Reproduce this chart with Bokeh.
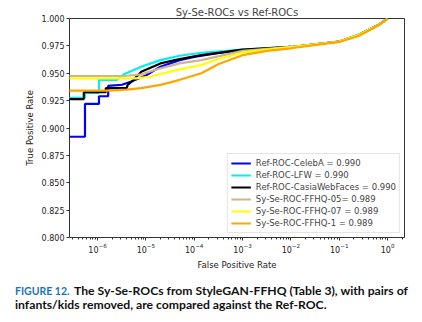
from bokeh.plotting import figure
from bokeh.models import Label, Legend, LegendItem, Range1d, LogTicker, FixedTicker, PrintfTickFormatter
from bokeh.layouts import column
from bokeh.embed import file_html
from bokeh.resources import INLINE

# ---- data ----
fpr_celeba = [2.5e-7, 5.5e-7, 5.5e-7, 1.07e-6, 1.07e-6, 1.66e-6, 1.66e-6, 3.2e-6, 5.0e-6, 1.0e-5, 2.0e-5, 5.0e-5, 1.0e-4, 3.2e-4, 1.0e-3, 3.2e-3, 1.0e-2, 3.2e-2, 0.1, 0.25, 0.45, 0.7, 1.0]
tpr_celeba = [0.892, 0.892, 0.922, 0.922, 0.929, 0.929, 0.9385, 0.9395, 0.9425, 0.948, 0.956, 0.962, 0.965, 0.9685, 0.971, 0.9725, 0.974, 0.9765, 0.979, 0.985, 0.9907, 0.995, 1.0]

fpr_lfw = [2.5e-7, 5.5e-7, 5.5e-7, 1.07e-6, 1.07e-6, 2.5e-6, 3.5e-6, 8.0e-6, 2.0e-5, 5.0e-5, 1.4e-4, 1.0e-3, 1.0e-2, 3.2e-2, 0.1, 0.25, 0.45, 0.7, 1.0]
tpr_lfw = [0.9275, 0.9275, 0.932, 0.932, 0.944, 0.944, 0.949, 0.956, 0.962, 0.966, 0.9687, 0.9717, 0.974, 0.9765, 0.979, 0.985, 0.9907, 0.995, 1.0]

fpr_casia = [2.5e-7, 5.2e-7, 5.2e-7, 1.48e-6, 1.48e-6, 4.0e-6, 4.2e-6, 5.6e-6, 8.0e-6, 2.0e-5, 5.0e-5, 1.4e-4, 1.0e-3, 1.0e-2, 3.2e-2, 0.1, 0.25, 0.45, 0.7, 1.0]
tpr_casia = [0.9264, 0.9264, 0.9327, 0.9327, 0.9364, 0.9364, 0.9394, 0.944, 0.9514, 0.959, 0.963, 0.9665, 0.9715, 0.974, 0.9765, 0.979, 0.985, 0.9907, 0.995, 1.0]

fpr_ffhq05 = [2.5e-7, 3.5e-6, 8.0e-6, 2.0e-5, 5.0e-5, 1.4e-4, 1.0e-3, 1.0e-2, 3.2e-2, 0.1, 0.25, 0.45, 0.7, 1.0]
tpr_ffhq05 = [0.9475, 0.9475, 0.949, 0.9545, 0.959, 0.962, 0.9704, 0.974, 0.9765, 0.979, 0.985, 0.9907, 0.995, 1.0]

fpr_ffhq07 = [2.5e-7, 6.3e-6, 1.26e-5, 2.0e-5, 5.0e-5, 1.4e-4, 3.2e-4, 1.0e-3, 1.0e-2, 3.2e-2, 0.1, 0.25, 0.45, 0.7, 1.0]
tpr_ffhq07 = [0.9454, 0.9454, 0.947, 0.9493, 0.9535, 0.9575, 0.963, 0.969, 0.9738, 0.9765, 0.979, 0.985, 0.9907, 0.995, 1.0]

fpr_ffhq1 = [2.5e-7, 1.6e-6, 4.0e-6, 8.0e-6, 2.0e-5, 5.0e-5, 1.4e-4, 3.2e-4, 1.0e-3, 3.2e-3, 1.0e-2, 0.1, 0.25, 0.45, 0.7, 1.0]
tpr_ffhq1 = [0.9342, 0.9342, 0.935, 0.9364, 0.9394, 0.944, 0.95, 0.9585, 0.9665, 0.9705, 0.9728, 0.9786, 0.984, 0.99, 0.995, 1.0]

labels = ["Ref-ROC-CelebA = 0.990", "Ref-ROC-LFW = 0.990", "Ref-ROC-CasiaWebFaces = 0.990",
          "Sy-Se-ROC-FFHQ-05= 0.989", "Sy-Se-ROC-FFHQ-07 = 0.989", "Sy-Se-ROC-FFHQ-1 = 0.989"]
colors = ["#0000ff", "#00f0f0", "#000000", "#d2b48c", "#ffff00", "#ffa500"]
y_ticks = [0.800, 0.825, 0.850, 0.875, 0.900, 0.925, 0.950, 0.975, 1.000]

caption_label = "FIGURE 12."
caption_line1 = "The Sy-Se-ROCs from StyleGAN-FFHQ (Table 3), with pairs of"
caption_line2 = "infants/kids removed, are compared against the Ref-ROC."

series = [(fpr_celeba, tpr_celeba), (fpr_lfw, tpr_lfw), (fpr_casia, tpr_casia),
          (fpr_ffhq05, tpr_ffhq05), (fpr_ffhq07, tpr_ffhq07), (fpr_ffhq1, tpr_ffhq1)]

FONT = "DejaVu Sans"
LEFT, RIGHT = 69, 18

p = figure(width=422, height=272, x_axis_type="log", output_backend="svg", toolbar_location=None,
           title="Sy-Se-ROCs vs Ref-ROCs",
           x_range=Range1d(10 ** -6.58, 10 ** 0.35), y_range=Range1d(0.8, 1.0),
           min_border_left=LEFT, min_border_right=RIGHT, min_border_top=18, min_border_bottom=33)
p.frame_align = False

p.title.text_font = FONT
p.title.text_font_size = "10px"
p.title.text_font_style = "normal"
p.title.align = "center"
p.title.standoff = 2
p.title.offset = 0

p.grid.visible = False
p.outline_line_color = "#333333"
p.outline_line_width = 1
p.background_fill_color = "white"
p.border_fill_color = "white"

items = []
for (fx, ty), c, lab in zip(series, colors, labels):
    r = p.line(fx, ty, line_color=c, line_width=2.2)
    items.append(LegendItem(label=lab, renderers=[r]))

legend = Legend(items=items, location="bottom_right", label_text_font=FONT, label_text_font_size="8.5px",
                glyph_width=20, glyph_height=12, label_height=12, label_standoff=5, spacing=0,
                padding=3, margin=4, border_line_color="#cccccc", border_line_width=1,
                background_fill_alpha=0.8)
p.add_layout(legend)

# axes
p.xaxis.ticker = LogTicker(desired_num_ticks=8, num_minor_ticks=10)
p.yaxis.ticker = FixedTicker(ticks=y_ticks)
p.yaxis.formatter = PrintfTickFormatter(format="%.3f")
for ax in (p.xaxis, p.yaxis):
    ax.axis_line_color = None
    ax.major_tick_line_color = "#333333"
    ax.minor_tick_line_color = "#333333"
    ax.major_tick_in = 0
    ax.minor_tick_in = 0
    ax.major_tick_out = 3
    ax.minor_tick_out = 2
    ax.major_label_text_font = FONT
    ax.major_label_text_font_size = "8px"
    ax.major_label_text_color = "#222222"
    ax.axis_label_text_font = FONT
    ax.axis_label_text_font_size = "8.5px"
    ax.axis_label_text_font_style = "normal"
    ax.axis_label_text_color = "#222222"
    ax.major_label_standoff = 2
    ax.axis_label_standoff = 4
p.yaxis.minor_tick_line_color = None
p.xaxis.axis_label = "False Positive Rate"
p.yaxis.axis_label = "True Positive Rate"

# caption figure: no axes, frame covers the whole canvas, data units = pixels
cap = figure(width=422, height=50, output_backend="svg", toolbar_location=None,
             x_axis_location=None, y_axis_location=None,
             x_range=Range1d(0, 422), y_range=Range1d(50, 0),
             min_border_left=0, min_border_right=0, min_border_top=0, min_border_bottom=0)
cap.frame_align = False
cap.grid.visible = False
cap.outline_line_color = None
cap.background_fill_color = "white"
cap.border_fill_color = "white"

CAP = "Lato"
common = dict(text_font=CAP, text_font_style="bold", text_baseline="alphabetic")
cap.add_layout(Label(x=14.5, y=18, text=caption_label, text_color="#1a74b8", text_font_size="10.5px", **common))
cap.add_layout(Label(x=73.5, y=18, text=caption_line1, text_color="#111111", text_font_size="12.2px", **common))
cap.add_layout(Label(x=14.5, y=31.5, text=caption_line2, text_color="#111111", text_font_size="12.2px", **common))

layout = column(p, cap, spacing=0)
open("out.html", "w").write(file_html(layout, INLINE))
